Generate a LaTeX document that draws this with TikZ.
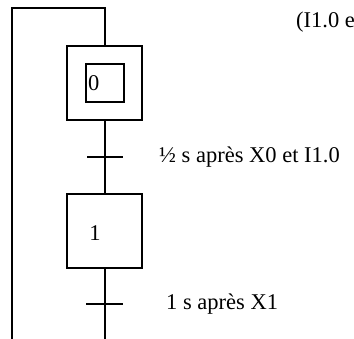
\documentclass[tikz,border=0pt]{standalone}
\usepackage{fontspec}
\setmainfont{Liberation Serif}
\begin{document}
\begin{tikzpicture}[x=1pt,y=-1pt,
  ln/.style={line width=2pt},
  stepbox/.style={draw,line width=2pt,minimum width=75pt,minimum height=74pt,inner sep=0pt},
  innerbox/.style={draw,line width=1.8pt,minimum width=38pt,minimum height=38pt,inner sep=0pt},
  lbl/.style={font=\fontsize{22.5}{26}\selectfont,inner sep=0pt,anchor=west},
  bar/.style={line width=1.6pt}]
\useasboundingbox (0,0) rectangle (354,339);
\node[stepbox] (s0) at (104,83) {};
\node[innerbox] (s0i) at (105,83) {};
\node[lbl] (s0t) at (88,83) {0};
\node[stepbox] (s1) at (104.5,231) {};
\node[lbl,anchor=center] (s1t) at (95,233) {1};
\coordinate (t1) at (105,157);
\coordinate (t2) at (105,304);
\coordinate (bot) at (105,339);
\coordinate (tl) at (12,8);
\coordinate (tr) at (105,8);
\coordinate (bl) at (12,339);
\draw[ln] (bl) -- (tl) -- (tr) -- (s0.north -| tr);
\draw[ln] (s0.south -| t1) -- (s1.north -| t1);
\draw[ln] (s1.south -| t2) -- (bot);
\draw[bar] ([xshift=-18pt]t1) -- ([xshift=18pt]t1);
\draw[bar] ([xshift=-19pt]t2) -- ([xshift=18pt]t2);
\node[lbl] (c1) at (159,157) {½ s après X0 et I1.0};
\node[lbl] (c2) at (166,304) {1 s après X1};
\node[lbl] (c0) at (296,22) {(I1.0 e};
\end{tikzpicture}
\end{document}
